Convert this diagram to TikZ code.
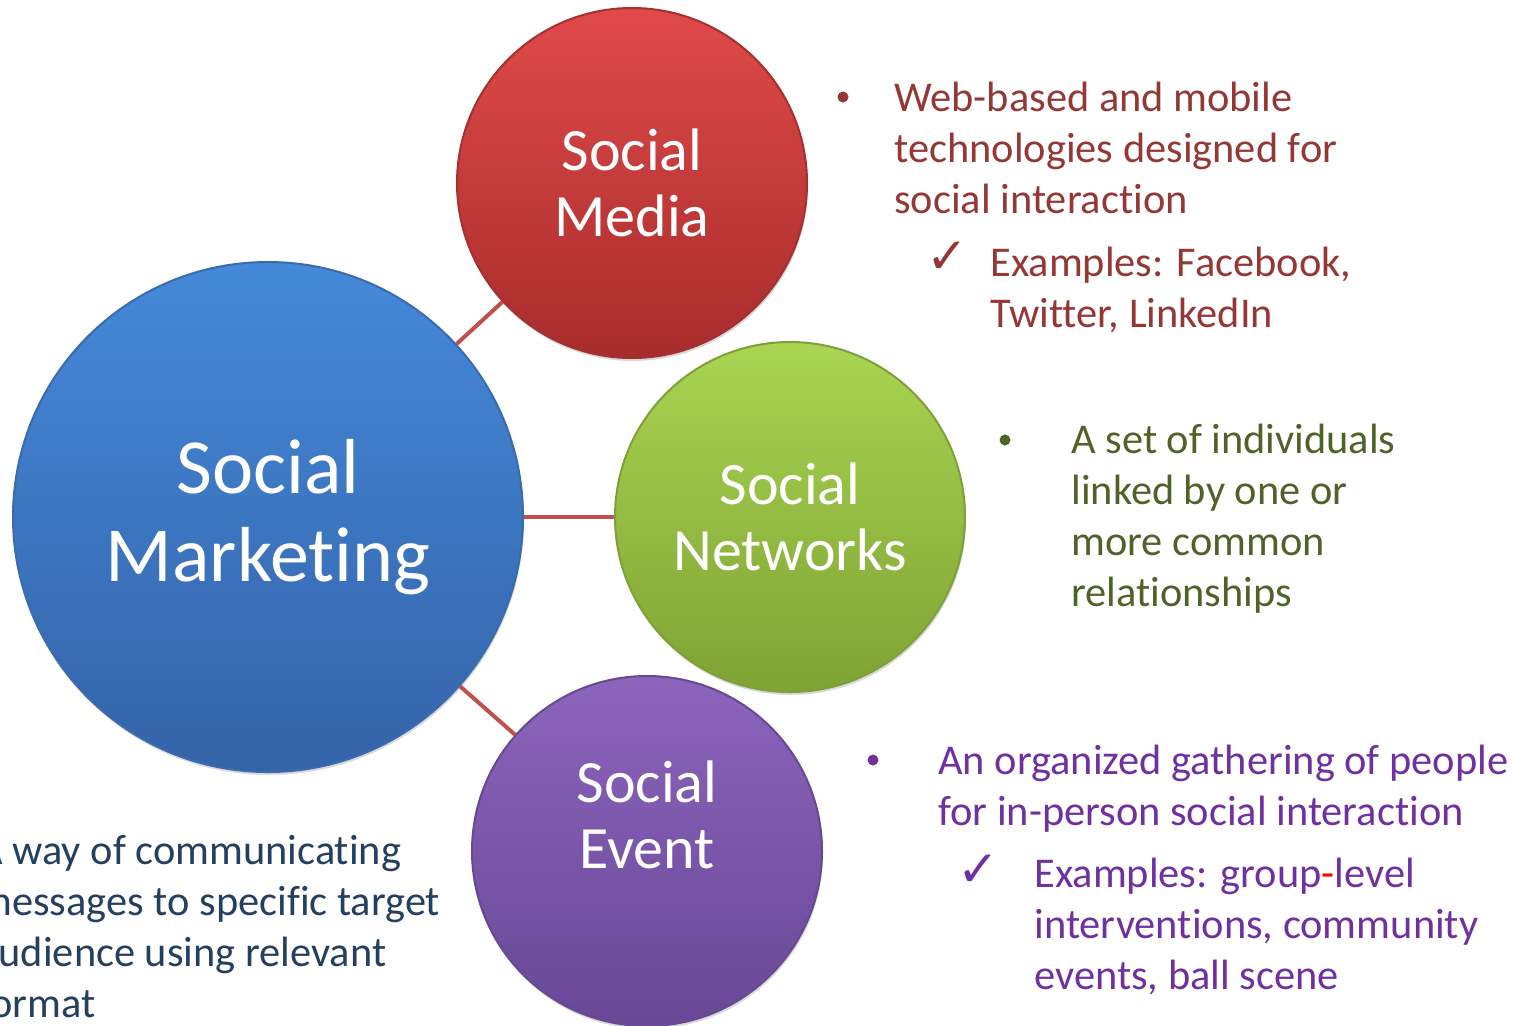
\documentclass[tikz,border=0pt]{standalone}
\usepackage{fontspec}
\setmainfont{Carlito}[Ligatures=NoCommon, Contextuals=NoAlternate]
\newfontfamily\symfont{DejaVu Sans}
\usetikzlibrary{shadows}

\definecolor{linkred}{HTML}{C0504D}
\definecolor{mkttop}{HTML}{4589D9}
\definecolor{mktbot}{HTML}{3463A8}
\definecolor{mktedge}{HTML}{3A6BAE}
\definecolor{mediatop}{HTML}{E04A4A}
\definecolor{mediabot}{HTML}{A82C2C}
\definecolor{mediaedge}{HTML}{A53030}
\definecolor{nettop}{HTML}{AAD452}
\definecolor{netbot}{HTML}{7FA334}
\definecolor{netedge}{HTML}{7FA038}
\definecolor{eventtop}{HTML}{8C64BC}
\definecolor{eventbot}{HTML}{684896}
\definecolor{eventedge}{HTML}{674892}
\definecolor{mkttext}{HTML}{243F60}
\definecolor{mediatext}{HTML}{953735}
\definecolor{nettext}{HTML}{4F6228}
\definecolor{eventtext}{HTML}{7030A0}

\begin{document}
\begin{tikzpicture}[x=0.5pt,y=-0.5pt,
  bubble/.style={circle, inner sep=0pt, align=center, text=white, line width=1pt,
    drop shadow={opacity=0.3, shadow xshift=0.5pt, shadow yshift=-1.5pt}},
  smallbubble/.style={bubble, minimum size=175pt, font=\fontsize{30}{33}\selectfont},
  note/.style={anchor=north west, inner sep=0pt, align=left, font=\fontsize{21.2}{25.5}\selectfont},
  tick/.style={inner sep=0pt, font=\symfont\fontsize{25}{25}\selectfont},
  link/.style={draw=linkred, line width=2pt}]

\def\dotradius{5.5};

\clip (0,0) rectangle (1514,1025);

% the four circles
\node[bubble, minimum size=255pt, top color=mkttop, bottom color=mktbot, draw=mktedge,
  font=\fontsize{39}{44}\selectfont] (mkt) at (268,517) {Social\\Marketing};
\node[smallbubble, top color=mediatop, bottom color=mediabot, draw=mediaedge] (media) at (632,183) {Social\\Media};
\node[smallbubble, top color=nettop, bottom color=netbot, draw=netedge] (net) at (790,517) {Social\\Networks};
\node[smallbubble, top color=eventtop, bottom color=eventbot, draw=eventedge,
  label={[align=center, text=white, font=\fontsize{30}{33}\selectfont, yshift=18pt]center:{Social\\Event}}] (event) at (647,851) {};

\draw[link] (mkt) -- (media);
\draw[link] (mkt) -- (net);
\draw[link] (mkt) -- (event);

% Social Media
\fill[mediatext] (843,97) circle (\dotradius);
\node[note, text=mediatext] (mediadesc) at (894,82) {Web-based and mobile\\technologies designed for\\social interaction};
\node[tick, text=mediatext] (mediatick) at (947,258) {✓};
\node[note, text=mediatext] (mediaex) at (990,247) {Examples: Facebook,\\Twitter, LinkedIn};

% Social Networks
\fill[nettext] (1005,440) circle (\dotradius);
\node[note, text=nettext] (netdesc) at (1071,424) {A set of individuals\\linked by one or\\more common\\relationships};

% Social Event
\fill[eventtext] (873,760) circle (\dotradius);
\node[note, text=eventtext] (eventdesc) at (938,745) {An organized gathering of people\\for in-person social interaction};
\node[tick, text=eventtext] (eventtick) at (978,871) {✓};
\node[note, text=eventtext] (eventex) at (1034,858) {Examples: group{\color{red}-}level\\interventions, community\\events, ball scene};

% Social Marketing
\node[note, text=mkttext] (mktdesc) at (-22,835) {A way of communicating\\messages to specific target\\audience using relevant\\format};
\end{tikzpicture}
\end{document}
